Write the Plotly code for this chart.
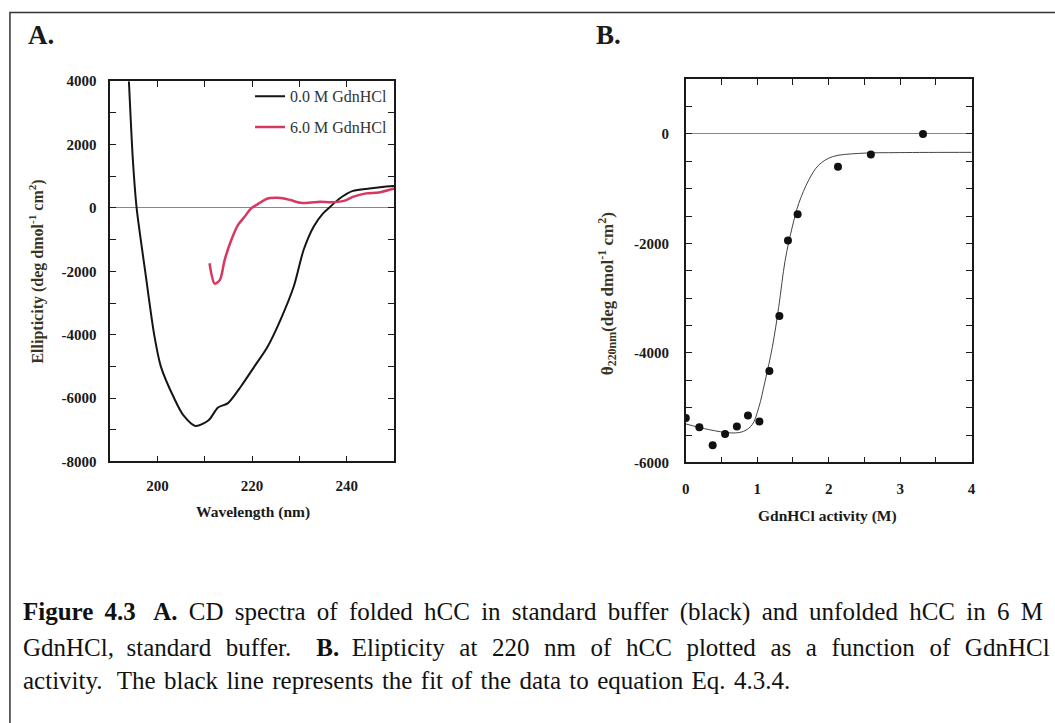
import plotly.graph_objects as go

W, H = 1055, 723

# ---------- Panel A data: CD spectra ----------
wl_folded = [193.96, 194.8, 195.6, 197.4, 199.3, 200.7, 203.5, 205.5, 208.0, 210.8, 212.8,
             214.9, 217.7, 220.5, 223.3, 226.0, 228.8, 230.9, 233.0, 235.0, 236.5,
             238.5, 241.3, 244.8, 247.5, 250.0]
cd_folded = [4000, 1506, -13, -2000, -4000, -5000, -6000, -6550, -6880, -6700, -6300,
             -6160, -5620, -5000, -4370, -3530, -2480, -1320, -590, -170, 37,
             300, 540, 615, 660, 690]

wl_unfolded = [211.0, 212.1, 213.2, 214.2, 215.6, 217.0, 218.4, 219.8, 221.2, 223.3, 225.4,
               226.7, 228.1, 230.2, 232.3, 234.4, 236.5, 238.5, 239.6, 241.3, 244.1,
               246.8, 250.0]
cd_unfolded = [-1745, -2390, -2270, -1640, -1010, -540, -280, -13, 120, 300, 320,
               300, 250, 163, 170, 200, 180, 200, 230, 350, 460,
               490, 615]

legend_names = ["0.0 M GdnHCl", "6.0 M GdnHCl"]

# ---------- Panel B data: denaturation ----------
gdn_act = [0.0, 0.19, 0.376, 0.55, 0.715, 0.87, 1.03, 1.17, 1.31, 1.43, 1.565, 2.13, 2.59, 3.32]
theta220 = [-5187, -5358, -5688, -5480, -5346, -5144, -5254, -4330, -3327, -1945, -1468,
            -600, -373, 0]

fit_x = [0.0, 0.32, 0.645, 0.81, 0.93, 1.02, 1.11, 1.21, 1.30, 1.39, 1.49, 1.58, 1.72,
         1.86, 2.05, 2.42, 3.0, 4.0]
fit_y = [-5297, -5400, -5462, -5431, -5309, -5003, -4514, -3902, -3168, -2312, -1700,
         -1272, -844, -569, -416, -355, -340, -336]

# ---------- tick labels ----------
a_xticks = [200, 220, 240]
a_xlabels = ["200", "220", "240"]
a_yticks = [4000, 2000, 0, -2000, -4000, -6000, -8000]
a_ylabels = ["4000", "2000", "0", "-2000", "-4000", "-6000", "-8000"]
b_xticks = [0, 1, 2, 3, 4]
b_xlabels = ["0", "1", "2", "3", "4"]
b_yticks = [0, -2000, -4000, -6000]
b_ylabels = ["0", "-2000", "-4000", "-6000"]

SERIF = "Liberation Serif, Times New Roman, serif"
RED = "#d8375f"
INK = "#1a1a1a"


def px_x(p):
    return p / W


def px_y(p):
    # page is displayed slightly compressed vertically; compensate
    return 1 - ((p - 7.6) / 0.98) / H


fig = go.Figure()

fig.add_trace(go.Scatter(x=wl_folded, y=cd_folded, mode="lines", name=legend_names[0],
                         line=dict(color="#151515", width=2, shape="spline", smoothing=0.8),
                         xaxis="x", yaxis="y", legendgroup="a"))
fig.add_trace(go.Scatter(x=wl_unfolded, y=cd_unfolded, mode="lines", name=legend_names[1],
                         line=dict(color=RED, width=2.5, shape="spline", smoothing=0.8),
                         xaxis="x", yaxis="y", legendgroup="b"))

fig.add_trace(go.Scatter(x=fit_x, y=fit_y, mode="lines", showlegend=False,
                         line=dict(color="#444444", width=1, shape="spline", smoothing=1.0),
                         xaxis="x2", yaxis="y2"))
fig.add_trace(go.Scatter(x=gdn_act, y=theta220, mode="markers", showlegend=False,
                         marker=dict(color="#111111", size=8),
                         xaxis="x2", yaxis="y2"))

tickfont = dict(family=SERIF, size=15, color=INK, weight="bold")
common = dict(showline=True, linecolor=INK, linewidth=1.5, mirror="allticks",
              ticks="inside", ticklen=6, tickwidth=1.3, tickcolor=INK,
              showgrid=False, tickfont=tickfont, tickmode="array")


def minor(step):
    return dict(dtick=step, tickmode="linear", ticks="inside", ticklen=6, tickcolor=INK)


fig.update_layout(
    width=W, height=H, autosize=False,
    margin=dict(l=0, r=0, t=0, b=0),
    paper_bgcolor="white", plot_bgcolor="white",
    font=dict(family=SERIF, color=INK),
    xaxis=dict(domain=[px_x(107), px_x(393)], range=[190, 250],
               tickvals=a_xticks, ticktext=a_xlabels, minor=minor(10),
               zeroline=False, ticklabelstandoff=10, anchor="y", **common),
    yaxis=dict(domain=[px_y(462), px_y(81)], range=[-8000, 4000],
               tickvals=a_yticks, ticktext=a_ylabels, minor=minor(1000),
               zeroline=True, zerolinecolor="#888888", zerolinewidth=1,
               ticklabelstandoff=9, anchor="x", **common),
    xaxis2=dict(domain=[px_x(687), px_x(975)], range=[0, 4],
                tickvals=b_xticks, ticktext=b_xlabels, minor=minor(0.5),
                zeroline=False, ticklabelstandoff=12, anchor="y2", **common),
    yaxis2=dict(domain=[px_y(463), px_y(79)], range=[-6000, 1000],
                tickvals=b_yticks, ticktext=b_ylabels, minor=minor(500),
                zeroline=True, zerolinecolor="#888888", zerolinewidth=1,
                ticklabelstandoff=12, anchor="x2", **common),
    legend=dict(x=px_x(392), y=px_y(79), xanchor="right", yanchor="top",
                bgcolor="rgba(0,0,0,0)", font=dict(family=SERIF, size=16, color="#333333"),
                tracegroupgap=7, itemwidth=30),
    showlegend=True,
)

# outer frame
fig.add_shape(type="rect", xref="paper", yref="paper",
              x0=px_x(6), x1=px_x(1060), y0=px_y(740), y1=px_y(12),
              line=dict(color="#333333", width=1.5))

ann = []
ann.append(dict(text="<b>A.</b>", x=px_x(22), y=px_y(35), xanchor="left", yanchor="middle",
                font=dict(family=SERIF, size=27, color=INK)))
ann.append(dict(text="<b>B.</b>", x=px_x(595), y=px_y(35), xanchor="left", yanchor="middle",
                font=dict(family=SERIF, size=27, color=INK)))
ann.append(dict(text="<b>Wavelength (nm)</b>", x=px_x(251), y=px_y(513), xanchor="center",
                yanchor="middle", font=dict(family=SERIF, size=15.5, color=INK)))
ann.append(dict(text="<b>GdnHCl activity (M)</b>", x=px_x(830), y=px_y(517), xanchor="center",
                yanchor="middle", font=dict(family=SERIF, size=15.5, color=INK)))
ann.append(dict(text="<b>Ellipticity (deg dmol<sup>-1</sup> cm<sup>2</sup>)</b>", x=px_x(33),
                y=px_y(272), xanchor="center", yanchor="middle", textangle=-90,
                font=dict(family=SERIF, size=16, color="#3b3520")))
ann.append(dict(text="<b>θ<sub>220nm</sub>(deg dmol<sup>-1</sup> cm<sup>2</sup>)</b>",
                x=px_x(608), y=px_y(294), xanchor="center", yanchor="middle", textangle=-90,
                font=dict(family=SERIF, size=17, color="#3b3520")))

TH = "\u2009"   # thin space
HR = "\u200a"   # hair space
cap_font = dict(family=SERIF, size=25, color="#111111")
line1_words = ["CD", "spectra", "of", "folded", "hCC", "in", "standard", "buffer", "(black)",
               "and", "unfolded", "hCC", "in", "6", "M"]
line2_words = ["Elipticity", "at", "220", "nm", "of", "hCC", "plotted", "as", "a",
               "function", "of", "GdnHCl"]
line3_words = ["activity.", " The", "black", "line", "represents", "the", "fit", "of", "the",
               "data", "to", "equation", "Eq.", "4.3.4."]
cap1 = "<b>Figure" + " " + TH + "4.3" + "   " + "A.</b>" + " " + TH + (" " + TH).join(line1_words)
gaps2 = ["  " + HR for i in range(len(line2_words) - 1)]
cap2 = ("GdnHCl," + "  " + "standard" + "  " + HR + "buffer." + "    " + "<b>B.</b>" + "  "
        + line2_words[0] + "".join(g + w for g, w in zip(gaps2, line2_words[1:])))
cap3 = (" " + HR).join(line3_words)

ann.append(dict(text=cap1, x=px_x(17), y=px_y(613), xanchor="left", yanchor="middle", font=cap_font))
ann.append(dict(text=cap2, x=px_x(17), y=px_y(648), xanchor="left", yanchor="middle", font=cap_font))
ann.append(dict(text=cap3, x=px_x(17), y=px_y(682), xanchor="left", yanchor="middle", font=cap_font))

for a in ann:
    a.update(xref="paper", yref="paper", showarrow=False)
fig.update_layout(annotations=ann)

fig.write_html("out.html", config={"displayModeBar": False},
               post_script="document.body.style.margin='0';document.body.style.overflow='hidden';")
